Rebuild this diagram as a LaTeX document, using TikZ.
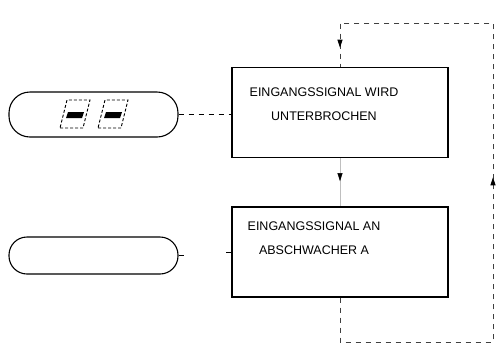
\documentclass[tikz,border=0pt]{standalone}
\usepackage{fontspec}
\setmainfont{Liberation Sans}
\usetikzlibrary{arrows.meta,decorations.markings}
\begin{document}
\begin{tikzpicture}[x=1pt,y=-1pt]
\tikzstyle{bx} = [draw=black,line width=1.3pt,minimum width=216pt,minimum height=90pt] %block
\tikzstyle{pill} = [draw=black,line width=1.1pt,rounded corners=21pt,minimum width=169pt] %display
\tikzstyle{tx} = [align=center,font=\fontsize{12.5}{24}\selectfont] %text
\tikzstyle{dl} = [dash pattern=on 5pt off 5pt,line width=0.9pt] %dashed line
\tikzstyle{ma} = [postaction={decorate,decoration={markings,mark=at position #1 with {\arrow[black]{Triangle[length=8pt,width=5pt]}}}}] %mid arrow
\useasboundingbox (0,0) rectangle (503,349);
\node[pill,minimum height=45pt](disp)at(93.5,114.5){};
\node[pill,minimum height=37pt,rounded corners=18pt](idle)at(93.5,255.5){};
\node[bx](b1)at(340,112.5){};
\node[bx](b2)at(340,252){};
\node[tx](t1)at([xshift=-16pt,yshift=8pt]b1.center){EINGANGSSIGNAL WIRD\\UNTERBROCHEN};
\node[tx](t2)at([xshift=-26pt,yshift=14pt]b2.center){EINGANGSSIGNAL AN\\ABSCHWACHER A};
% display digits
\foreach \dx in {0,38}{
\draw[dash pattern=on 3pt off 2pt,line width=0.9pt](60+\dx,128)--(83+\dx,128)--(90+\dx,100)--(67+\dx,100)--cycle;
\fill(66+\dx,118)--(82+\dx,118)--(84+\dx,112)--(68+\dx,112)--cycle;
}
\coordinate(lb)at(340,342);
\coordinate(rt)at(493,23);
\draw[dl](disp.east)--(disp.east-|b1.west);
\draw[line width=0.8pt](idle.east)--++(5,0);
\draw[line width=0.8pt](b2.west)--++(-5,0);
\draw[line width=0.5pt,black!25,ma=23pt](b1.south)--(b2.north);
\draw[dl,black!75,ma=362pt,ma=694pt](b2.south)--(lb)-|(rt)-|(b1.north);
\end{tikzpicture}
\end{document}
